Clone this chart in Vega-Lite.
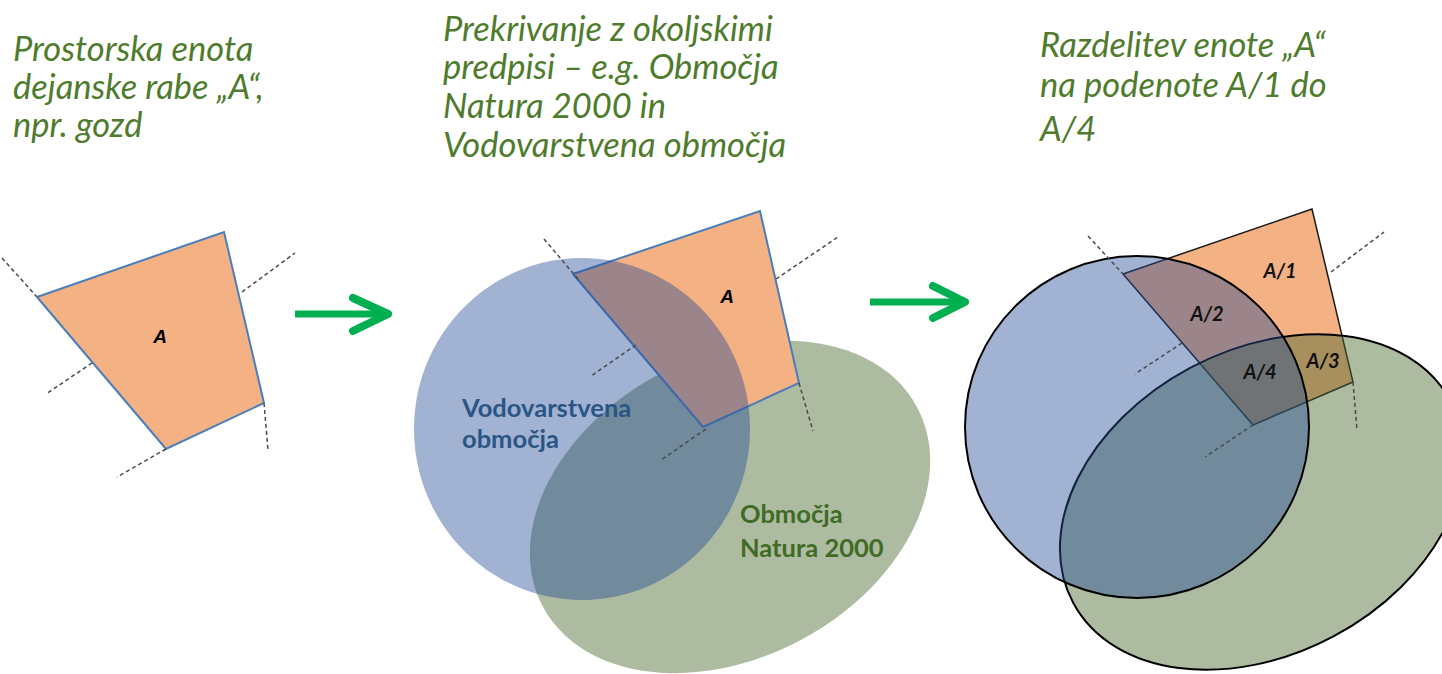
{
  "$schema": "https://vega.github.io/schema/vega-lite/v6.json",
  "width": 1442,
  "height": 674,
  "autosize": {"type": "none"},
  "padding": 0,
  "background": "white",
  "config": {"view": {"stroke": null}},
  "datasets": {
    "quads": [
      {"panel": 1, "i": 0, "x": 37, "y": 297}, {"panel": 1, "i": 1, "x": 224, "y": 232}, {"panel": 1, "i": 2, "x": 264, "y": 403}, {"panel": 1, "i": 3, "x": 166, "y": 449}, {"panel": 1, "i": 4, "x": 37, "y": 297},
      {"panel": 2, "i": 0, "x": 573, "y": 274}, {"panel": 2, "i": 1, "x": 760, "y": 211}, {"panel": 2, "i": 2, "x": 799, "y": 383}, {"panel": 2, "i": 3, "x": 703, "y": 427}, {"panel": 2, "i": 4, "x": 573, "y": 274},
      {"panel": 3, "i": 0, "x": 1123, "y": 274}, {"panel": 3, "i": 1, "x": 1312, "y": 209}, {"panel": 3, "i": 2, "x": 1353, "y": 382}, {"panel": 3, "i": 3, "x": 1253, "y": 425}, {"panel": 3, "i": 4, "x": 1123, "y": 274}
    ],
    "ellipses": [
      {"id": "green2", "x": 730, "y": 507},
      {"id": "green3", "x": 1262, "y": 502},
      {"id": "blue2", "x": 582, "y": 429},
      {"id": "blue3", "x": 1137, "y": 427}
    ],
    "dashes": [
      {"id": 1, "i": 0, "x": 2, "y": 258}, {"id": 1, "i": 1, "x": 37, "y": 297},
      {"id": 2, "i": 0, "x": 242, "y": 292}, {"id": 2, "i": 1, "x": 295, "y": 253},
      {"id": 3, "i": 0, "x": 92, "y": 363}, {"id": 3, "i": 1, "x": 46, "y": 394},
      {"id": 4, "i": 0, "x": 166, "y": 449}, {"id": 4, "i": 1, "x": 117, "y": 477},
      {"id": 5, "i": 0, "x": 264, "y": 403}, {"id": 5, "i": 1, "x": 268, "y": 450},
      {"id": 6, "i": 0, "x": 544, "y": 239}, {"id": 6, "i": 1, "x": 578, "y": 279},
      {"id": 7, "i": 0, "x": 776, "y": 279}, {"id": 7, "i": 1, "x": 838, "y": 237},
      {"id": 8, "i": 0, "x": 636, "y": 345}, {"id": 8, "i": 1, "x": 591, "y": 376},
      {"id": 9, "i": 0, "x": 706, "y": 429}, {"id": 9, "i": 1, "x": 661, "y": 460},
      {"id": 10, "i": 0, "x": 799, "y": 383}, {"id": 10, "i": 1, "x": 813, "y": 431},
      {"id": 11, "i": 0, "x": 1088, "y": 236}, {"id": 11, "i": 1, "x": 1123, "y": 274},
      {"id": 12, "i": 0, "x": 1331, "y": 272}, {"id": 12, "i": 1, "x": 1384, "y": 232},
      {"id": 13, "i": 0, "x": 1182, "y": 343}, {"id": 13, "i": 1, "x": 1135, "y": 374},
      {"id": 14, "i": 0, "x": 1253, "y": 425}, {"id": 14, "i": 1, "x": 1205, "y": 457},
      {"id": 15, "i": 0, "x": 1353, "y": 382}, {"id": 15, "i": 1, "x": 1357, "y": 430}
    ],
    "shafts": [
      {"id": 1, "i": 0, "x": 295, "y": 314}, {"id": 1, "i": 1, "x": 382, "y": 314},
      {"id": 2, "i": 0, "x": 870, "y": 302}, {"id": 2, "i": 1, "x": 958, "y": 302}
    ],
    "heads": [
      {"id": 1, "i": 0, "x": 353, "y": 298}, {"id": 1, "i": 1, "x": 388, "y": 314}, {"id": 1, "i": 2, "x": 353, "y": 331},
      {"id": 2, "i": 0, "x": 933, "y": 286}, {"id": 2, "i": 1, "x": 965, "y": 302}, {"id": 2, "i": 2, "x": 933, "y": 318}
    ],
    "titles": [
      {"t": "Prostorska enota", "x": 13, "y": 61},
      {"t": "dejanske rabe „A“,", "x": 13, "y": 99},
      {"t": "npr. gozd", "x": 13, "y": 137},
      {"t": "Prekrivanje z okoljskimi", "x": 443, "y": 41},
      {"t": "predpisi – e.g. Območja", "x": 443, "y": 79},
      {"t": "Natura 2000 in", "x": 443, "y": 118},
      {"t": "Vodovarstvena območja", "x": 443, "y": 157},
      {"t": "Razdelitev enote „A“", "x": 1040, "y": 57},
      {"t": "na podenote A/1 do", "x": 1040, "y": 97},
      {"t": "A/4", "x": 1040, "y": 141}
    ],
    "zones": [
      {"t": "Vodovarstvena", "x": 462, "y": 417, "g": "blue"},
      {"t": "območja", "x": 462, "y": 448, "g": "blue"},
      {"t": "Območja", "x": 740, "y": 523, "g": "green"},
      {"t": "Natura 2000", "x": 740, "y": 557, "g": "green"}
    ],
    "units": [
      {"t": "A", "x": 160, "y": 337, "k": "a"},
      {"t": "A", "x": 727, "y": 297, "k": "a"},
      {"t": "A/1", "x": 1280, "y": 272, "k": "s"},
      {"t": "A/2", "x": 1207, "y": 315, "k": "s"},
      {"t": "A/3", "x": 1323, "y": 362, "k": "s"},
      {"t": "A/4", "x": 1260, "y": 373, "k": "s"}
    ]
  },
  "encoding": {
    "x": {"field": "x", "type": "quantitative", "scale": {"domain": [0, 1442], "nice": false, "zero": false}, "axis": null},
    "y": {"field": "y", "type": "quantitative", "scale": {"domain": [0, 674], "nice": false, "zero": false, "reverse": true}, "axis": null}
  },
  "layer": [
    {
      "data": {"name": "ellipses"},
      "transform": [{"filter": "datum.id == 'green2'"}],
      "mark": {"type": "point", "shape": "M 1 0 C 1 0.3927 0.5523 0.711 0 0.711 C -0.5523 0.711 -1 0.3927 -1 0 C -1 -0.3927 -0.5523 -0.711 0 -0.711 C 0.5523 -0.711 1 -0.3927 1 0 Z", "size": 179776, "angle": 332, "filled": true, "fill": "#49682f", "fillOpacity": 0.45, "opacity": 1, "strokeWidth": 0}
    },
    {
      "data": {"name": "quads"},
      "transform": [{"filter": "datum.panel != 3"}],
      "mark": {"type": "line", "fill": "#f4b183", "stroke": "#4a7ebb", "strokeWidth": 2, "strokeJoin": "miter"},
      "encoding": {"order": {"field": "i", "type": "quantitative"}, "detail": {"field": "panel", "type": "nominal"}}
    },
    {
      "data": {"name": "quads"},
      "transform": [{"filter": "datum.panel == 3"}],
      "mark": {"type": "line", "fill": "#f4b183", "stroke": "#1a1a1a", "strokeWidth": 1.5, "strokeJoin": "miter"},
      "encoding": {"order": {"field": "i", "type": "quantitative"}, "detail": {"field": "panel", "type": "nominal"}}
    },
    {
      "data": {"name": "ellipses"},
      "transform": [{"filter": "datum.id == 'green3'"}],
      "mark": {"type": "point", "shape": "M 1 0 C 1 0.3927 0.5523 0.711 0 0.711 C -0.5523 0.711 -1 0.3927 -1 0 C -1 -0.3927 -0.5523 -0.711 0 -0.711 C 0.5523 -0.711 1 -0.3927 1 0 Z", "size": 183184, "angle": 332, "filled": true, "fill": "#49682f", "fillOpacity": 0.45, "opacity": 1, "stroke": "#000000", "strokeWidth": 2, "strokeOpacity": 1}
    },
    {
      "data": {"name": "ellipses"},
      "transform": [{"filter": "datum.id == 'blue2'"}],
      "mark": {"type": "point", "shape": "M 1 0 C 1 0.5622 0.5523 1.018 0 1.018 C -0.5523 1.018 -1 0.5622 -1 0 C -1 -0.5622 -0.5523 -1.018 0 -1.018 C 0.5523 -1.018 1 -0.5622 1 0 Z", "size": 112896, "filled": true, "fill": "#244c96", "fillOpacity": 0.43, "opacity": 1, "strokeWidth": 0}
    },
    {
      "data": {"name": "ellipses"},
      "transform": [{"filter": "datum.id == 'blue3'"}],
      "mark": {"type": "point", "shape": "M 1 0 C 1 0.549 0.5523 0.994 0 0.994 C -0.5523 0.994 -1 0.549 -1 0 C -1 -0.549 -0.5523 -0.994 0 -0.994 C 0.5523 -0.994 1 -0.549 1 0 Z", "size": 118336, "filled": true, "fill": "#244c96", "fillOpacity": 0.43, "opacity": 1, "stroke": "#000000", "strokeWidth": 2, "strokeOpacity": 1}
    },
    {
      "data": {"name": "dashes"},
      "mark": {"type": "line", "stroke": "#4a4a4a", "strokeWidth": 1.5, "strokeDash": [4, 3]},
      "encoding": {"order": {"field": "i", "type": "quantitative"}, "detail": {"field": "id", "type": "nominal"}}
    },
    {
      "data": {"name": "shafts"},
      "mark": {"type": "line", "stroke": "#00b050", "strokeWidth": 7, "strokeCap": "butt"},
      "encoding": {"order": {"field": "i", "type": "quantitative"}, "detail": {"field": "id", "type": "nominal"}}
    },
    {
      "data": {"name": "heads"},
      "mark": {"type": "line", "stroke": "#00b050", "strokeWidth": 8, "strokeCap": "round", "strokeJoin": "round"},
      "encoding": {"order": {"field": "i", "type": "quantitative"}, "detail": {"field": "id", "type": "nominal"}}
    },
    {
      "data": {"name": "titles"},
      "mark": {"type": "text", "align": "left", "baseline": "alphabetic", "font": "Lato", "fontStyle": "italic", "fontSize": 34.5, "color": "#4f7b2d"},
      "encoding": {"text": {"field": "t", "type": "nominal"}}
    },
    {
      "data": {"name": "zones"},
      "transform": [{"filter": "datum.g == 'blue'"}],
      "mark": {"type": "text", "align": "left", "baseline": "alphabetic", "font": "Lato", "fontWeight": "bold", "fontSize": 25.5, "color": "#2a5585"},
      "encoding": {"text": {"field": "t", "type": "nominal"}}
    },
    {
      "data": {"name": "zones"},
      "transform": [{"filter": "datum.g == 'green'"}],
      "mark": {"type": "text", "align": "left", "baseline": "alphabetic", "font": "Lato", "fontWeight": "bold", "fontSize": 25.5, "color": "#3f6b24"},
      "encoding": {"text": {"field": "t", "type": "nominal"}}
    },
    {
      "data": {"name": "units"},
      "transform": [{"filter": "datum.k == 'a'"}],
      "mark": {"type": "text", "align": "center", "baseline": "middle", "font": "Liberation Sans", "fontWeight": "bold", "fontStyle": "italic", "fontSize": 19, "color": "#000000"},
      "encoding": {"text": {"field": "t", "type": "nominal"}}
    },
    {
      "data": {"name": "units"},
      "transform": [{"filter": "datum.k == 's'"}],
      "mark": {"type": "text", "align": "center", "baseline": "middle", "font": "Lato", "fontWeight": "bold", "fontStyle": "italic", "fontSize": 20, "color": "#111111"},
      "encoding": {"text": {"field": "t", "type": "nominal"}}
    }
  ]
}
